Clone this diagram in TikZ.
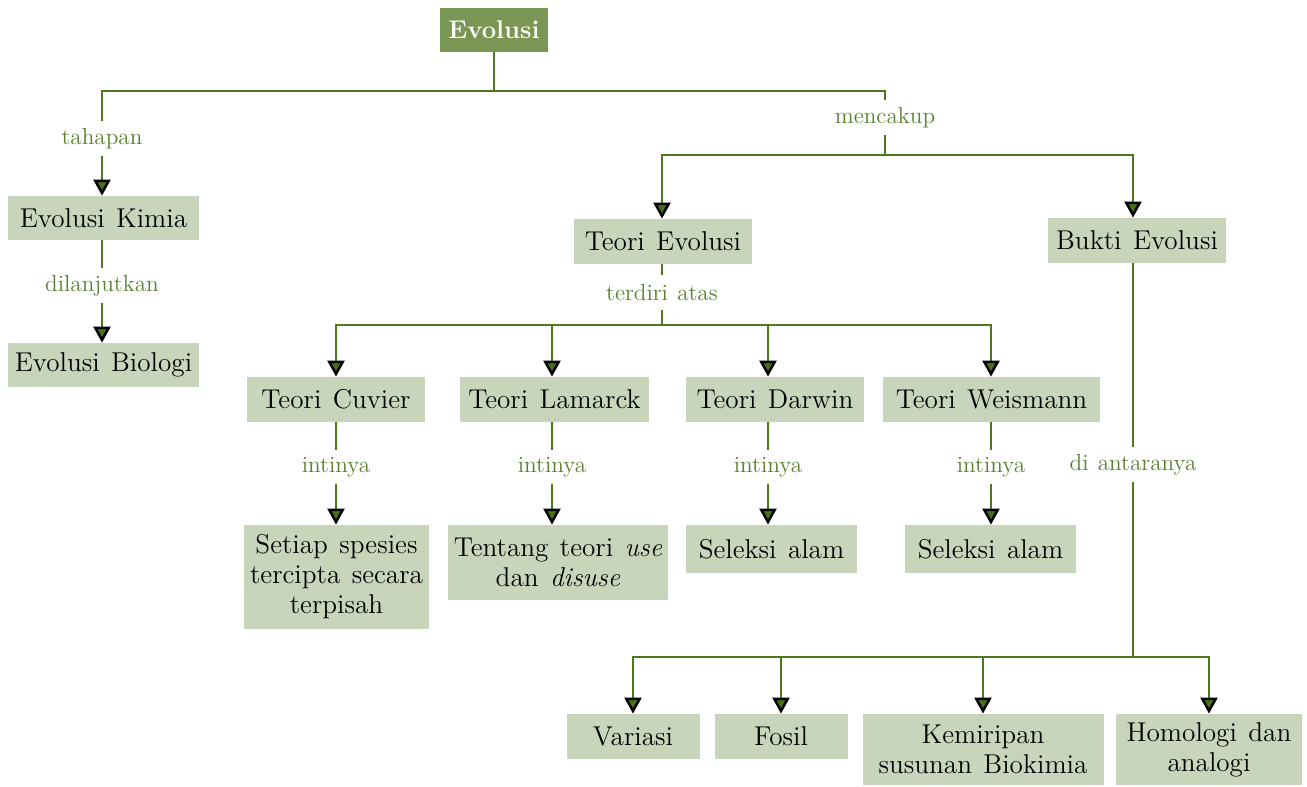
\documentclass[tikz,border=0pt]{standalone}
\usetikzlibrary{arrows.meta}
\definecolor{linegreen}{RGB}{78,122,30}
\definecolor{labelgreen}{RGB}{88,128,48}
\definecolor{boxfill}{RGB}{200,213,187}
\definecolor{topfill}{RGB}{122,150,84}
\definecolor{arrowgreen}{RGB}{72,112,22}
\newcommand{\boxfont}{\fontsize{13.6}{15}\selectfont\spaceskip=0.42em plus 0.1em\relax}
\newcommand{\lblfont}{\fontsize{11.6}{13}\selectfont\spaceskip=0.4em\relax}
\begin{document}
\begin{tikzpicture}[x=0.5pt,y=-0.5pt,
  box/.style={fill=boxfill, inner sep=0pt, align=center, text=black,
    font=\boxfont},
  topbox/.style={fill=topfill, inner sep=0pt, align=center, text=white,
    font=\fontsize{12.8}{15}\selectfont\bfseries},
  lbl/.style={text=labelgreen, inner sep=0pt, minimum height=17pt,
    font=\lblfont},
  conn/.style={draw=linegreen, line width=1.25pt},
  arr/.style={conn, -{Triangle[length=8pt,width=8.5pt,color=black,fill=arrowgreen]}}]
\useasboundingbox (0,0) rectangle (1307,787);

% boxes
\node[topbox, minimum width=54pt, minimum height=22pt] (evolusi) at (494,30) {Evolusi};
\node[box, minimum width=95.5pt, minimum height=22pt] (kimia) at (103.5,218) {Evolusi Kimia};
\node[box, minimum width=95.5pt, minimum height=22pt] (biologi) at (103.5,365) {Evolusi Biologi};
\node[box, minimum width=89pt, minimum height=22.5pt] (teorievo) at (663,241.5) {Teori Evolusi};
\node[box, minimum width=89pt, minimum height=22.5pt] (bukti) at (1137,240.5) {Bukti Evolusi};
\node[box, minimum width=89pt, minimum height=22.5pt] (cuvier) at (336,399.5) {Teori Cuvier};
\node[box, minimum width=94.5pt, minimum height=22.5pt] (lamarck) at (554.5,399.5) {Teori Lamarck};
\node[box, minimum width=89pt, minimum height=22.5pt] (darwin) at (775,399.5) {Teori Darwin};
\node[box, minimum width=108.5pt, minimum height=22.5pt] (weismann) at (991.5,399.5) {Teori Weismann};
\node[box, minimum width=92.5pt, minimum height=52pt] (setiap) at (336.5,577) {Setiap spesies\\tercipta secara\\terpisah};
\node[box, minimum width=110pt, minimum height=37.5pt] (tentang) at (558,562.5) {Tentang teori \textit{use}\\dan \textit{disuse}};
\node[box, minimum width=85.5pt, minimum height=24pt] (seleksiA) at (771.5,549) {Seleksi alam};
\node[box, minimum width=85.5pt, minimum height=24pt] (seleksiB) at (990.5,549) {Seleksi alam};
\node[box, minimum width=66.5pt, minimum height=22.5pt] (variasi) at (633,736.5) {Variasi};
\node[box, minimum width=66.5pt, minimum height=22.5pt] (fosil) at (781,736.5) {Fosil};
\node[box, minimum width=120.5pt, minimum height=35.5pt] (kemiripan) at (983,749.5) {Kemiripan\\susunan Biokimia};
\node[box, minimum width=93pt, minimum height=35.5pt] (homologi) at (1209,749.5) {Homologi dan\\analogi};

% labels
\node[lbl] (tahapan) at (102,138.5) {tahapan};
\node[lbl] (dilanjutkan) at (102,285.5) {dilanjutkan};
\node[lbl] (mencakup) at (885,117.5) {mencakup};
\node[lbl] (terdiri) at (662,292.5) {terdiri atas};
\node[lbl] (i1) at (336,467) {intinya};
\node[lbl] (i2) at (552,467) {intinya};
\node[lbl] (i3) at (768,467) {intinya};
\node[lbl] (i4) at (991,467) {intinya};
\node[lbl] (diantar) at (1133,464.5) {di antaranya};

% junctions
\coordinate (j0) at (494,91);
\coordinate (j1) at (885,155);
\coordinate (j2) at (662,325);
\coordinate (j3) at (1133,657);

% connectors
\draw[conn] (evolusi) -- (j0);
\draw[conn] (tahapan) |- (j0) -| (mencakup);
\draw[arr] (tahapan) -- (kimia.north -| tahapan);
\draw[conn] (kimia.south -| dilanjutkan) -- (dilanjutkan);
\draw[arr] (dilanjutkan) -- (biologi.north -| dilanjutkan);

\draw[conn] (mencakup) -- (j1);
\draw[arr] (j1) -| (teorievo.north -| terdiri);
\draw[arr] (j1) -| (bukti.north -| diantar);

\draw[conn] (teorievo.south -| terdiri) -- (terdiri);
\draw[conn] (terdiri) -- (j2);
\draw[arr] (j2) -| (cuvier.north -| i1);
\draw[arr] (j2) -| (lamarck.north -| i2);
\draw[arr] (j2) -| (darwin.north -| i3);
\draw[arr] (j2) -| (weismann.north -| i4);

\draw[conn] (cuvier.south -| i1) -- (i1);
\draw[arr] (i1) -- (setiap.north -| i1);
\draw[conn] (lamarck.south -| i2) -- (i2);
\draw[arr] (i2) -- (tentang.north -| i2);
\draw[conn] (darwin.south -| i3) -- (i3);
\draw[arr] (i3) -- (seleksiA.north -| i3);
\draw[conn] (weismann.south -| i4) -- (i4);
\draw[arr] (i4) -- (seleksiB.north -| i4);

\draw[conn] (bukti.south -| diantar) -- (diantar);
\draw[conn] (diantar) -- (j3);
\draw[arr] (j3) -| (variasi.north);
\draw[arr] (j3) -| (fosil.north);
\draw[arr] (j3) -| (kemiripan.north);
\draw[arr] (j3) -| (homologi.north);
\end{tikzpicture}
\end{document}
